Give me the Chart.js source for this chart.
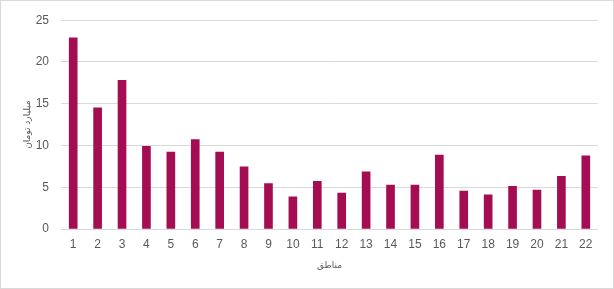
<!DOCTYPE html>
<html>
<head>
<meta charset="utf-8">
<script src="https://cdn.jsdelivr.net/npm/chart.js@4/dist/chart.umd.min.js"></script>
<style>
  html, body { margin: 0; padding: 0; background: #fff; }
  #wrap { width: 612px; height: 287px; border: 1px solid #d9d9d9; background: #fff; }
  canvas { display: block; }
</style>
</head>
<body>
<div id="wrap"><canvas id="c" width="612" height="287"></canvas></div>
<script>
const categories = ['1','2','3','4','5','6','7','8','9','10','11','12','13','14','15','16','17','18','19','20','21','22'];
const values = [22.9, 14.5, 17.8, 9.9, 9.2, 10.7, 9.2, 7.45, 5.45, 3.85, 5.7, 4.3, 6.85, 5.25, 5.25, 8.85, 4.55, 4.1, 5.1, 4.65, 6.3, 8.75];
const yTitle = 'میلیارد تومان';
const xTitle = 'مناطق';
const yMin = 0, yMax = 25, yStep = 5;

new Chart(document.getElementById('c'), {
  type: 'bar',
  data: {
    labels: categories,
    datasets: [{
      data: values,
      backgroundColor: '#a50d52',
      borderWidth: 0,
      barThickness: 8
    }]
  },
  options: {
    responsive: false,
    animation: false,
    layout: { padding: { left: 0, right: 15, top: 13, bottom: 0 } },
    plugins: { legend: { display: false }, tooltip: { enabled: false } },
    scales: {
      x: {
        grid: { display: false, drawTicks: false },
        border: { display: false },
        ticks: { color: '#595959', font: { family: 'Liberation Sans, Arial', size: 12 }, padding: 8, maxRotation: 0, autoSkip: false },
        title: { display: true, text: xTitle, color: '#595959', font: { family: 'Tahoma, DejaVu Sans', size: 9 }, padding: { top: 0, bottom: 16.5 } },
        afterFit(s) { s.height = 59; }
      },
      y: {
        min: yMin, max: yMax,
        grid: { color: '#d9d9d9', drawTicks: false },
        border: { display: false },
        ticks: { stepSize: yStep, color: '#595959', font: { family: 'Liberation Sans, Arial', size: 12 }, padding: 12 },
        title: { display: true, text: yTitle, color: '#595959', font: { family: 'Tahoma, DejaVu Sans', size: 9 }, padding: { top: 21.5, bottom: 0 } },
        afterFit(s) { s.width = 60; }
      }
    }
  }
});
</script>
</body>
</html>
